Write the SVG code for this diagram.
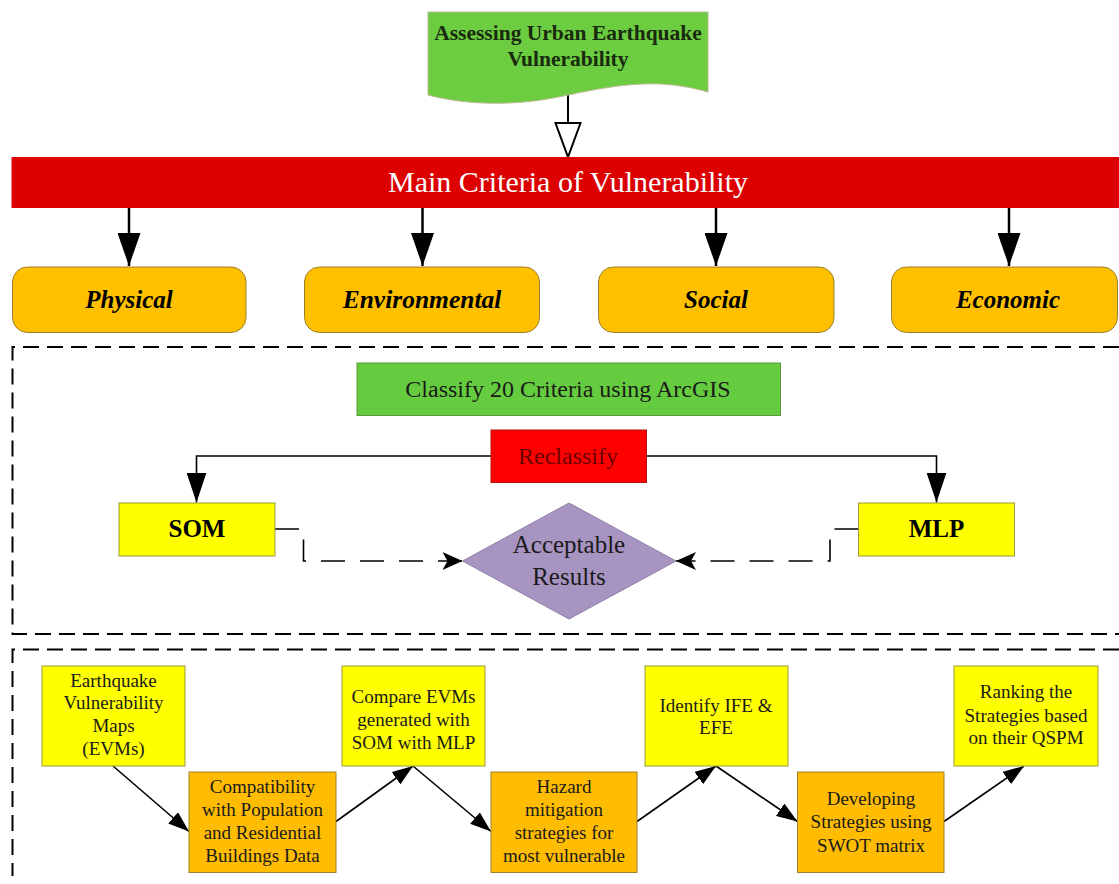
<svg xmlns="http://www.w3.org/2000/svg" width="1119" height="884" viewBox="0 0 1119 884">
<style>
  .serif{font-family:"Liberation Serif","Times New Roman",serif;}
  .b{font-weight:bold;}
  .bi{font-weight:bold;font-style:italic;}
  .crit{fill:#ffc000;stroke:#9a7f2c;stroke-width:1;}
  .yel{fill:#ffff00;stroke:#9c9a3a;stroke-width:1;}
  .org{fill:#ffbc00;stroke:#a0802c;stroke-width:1;}
  .frame{fill:none;stroke:#000;stroke-width:2;stroke-dasharray:16 8;}
  .conn{fill:none;stroke:#000;}
  .dash{fill:none;stroke:#000;stroke-width:1.6;stroke-dasharray:24 15;}
  .t19{font-size:19px;fill:#1a1a1a;}
</style>
<defs>
  <marker id="hollow" markerUnits="userSpaceOnUse" markerWidth="38" markerHeight="30" refX="35" refY="14" orient="auto">
    <path d="M1,1.5 L35,14 L1,26.5 Z" fill="#fff" stroke="#000" stroke-width="2"/>
  </marker>
  <marker id="big" markerUnits="userSpaceOnUse" markerWidth="33" markerHeight="23" refX="33" refY="11.5" orient="auto">
    <path d="M0,0 L33,11.5 L0,23 Z" fill="#000"/>
  </marker>
  <marker id="mid" markerUnits="userSpaceOnUse" markerWidth="30" markerHeight="20" refX="30" refY="10" orient="auto">
    <path d="M0,0 L30,10 L0,20 Z" fill="#000"/>
  </marker>
  <marker id="stealth" markerUnits="userSpaceOnUse" markerWidth="20" markerHeight="18" refX="20" refY="9" orient="auto">
    <path d="M0,0 L20,9 L0,18 L5,9 Z" fill="#000"/>
  </marker>
  <marker id="small" markerUnits="userSpaceOnUse" markerWidth="21" markerHeight="15" refX="21" refY="7.5" orient="auto">
    <path d="M0,0 L21,7.5 L0,15 Z" fill="#000"/>
  </marker>
</defs>
<rect width="1119" height="884" fill="#fff"/>

<!-- dashed frames -->
<g id="frames">
  <path class="frame" d="M1119,347 H12.5 V634 H1119"/>
  <path class="frame" d="M1119,649.5 H12.5 V876"/>
</g>

<!-- connectors -->
<g id="connectors">
  <line class="conn" x1="568" y1="94" x2="568" y2="157" stroke-width="2" marker-end="url(#hollow)"/>
  <line class="conn" x1="129" y1="208" x2="129" y2="266" stroke-width="2.5" marker-end="url(#big)"/>
  <line class="conn" x1="422.5" y1="208" x2="422.5" y2="266" stroke-width="2.5" marker-end="url(#big)"/>
  <line class="conn" x1="716" y1="208" x2="716" y2="266" stroke-width="2.5" marker-end="url(#big)"/>
  <line class="conn" x1="1009" y1="208" x2="1009" y2="266" stroke-width="2.5" marker-end="url(#big)"/>
  <path class="conn" d="M491,456 H196.5 V502.5" stroke-width="1.6" marker-end="url(#mid)"/>
  <path class="conn" d="M646.5,456 H936.5 V502.5" stroke-width="1.6" marker-end="url(#mid)"/>
  <path class="dash" d="M275,529 H303.5 V561 H462.5" marker-end="url(#stealth)"/>
  <path class="dash" d="M858.5,529 H830 V561 H676" marker-end="url(#stealth)"/>
  <line class="conn" x1="113" y1="766" x2="189" y2="831.5" stroke-width="1.6" marker-end="url(#small)"/>
  <line class="conn" x1="336" y1="821.5" x2="413" y2="766" stroke-width="1.6" marker-end="url(#small)"/>
  <line class="conn" x1="413" y1="766" x2="491" y2="831.5" stroke-width="1.6" marker-end="url(#small)"/>
  <line class="conn" x1="637" y1="821.5" x2="716" y2="766" stroke-width="1.6" marker-end="url(#small)"/>
  <line class="conn" x1="716" y1="766" x2="797.5" y2="821.5" stroke-width="1.6" marker-end="url(#small)"/>
  <line class="conn" x1="944" y1="821.5" x2="1024" y2="766" stroke-width="1.6" marker-end="url(#small)"/>
</g>

<g id="title">
  <path d="M428,12 H708 V92 C660,78 620,84 568,95 C520,106 470,106 428,95 Z" fill="#6bcd3f" stroke="#b8b890" stroke-width="1"/>
  <text class="serif b" font-size="21.5" text-anchor="middle" fill="#1a2a10"><tspan x="568" y="39.5">Assessing Urban Earthquake</tspan><tspan x="568" y="65.5">Vulnerability</tspan></text>
</g>

<g id="main-criteria">
  <rect x="11.5" y="157" width="1107.5" height="51" fill="#dc0000"/>
  <text class="serif" x="568" y="192" font-size="30" text-anchor="middle" fill="#fff">Main Criteria of Vulnerability</text>
</g>

<g id="physical">
  <rect class="crit" x="12.5" y="267" width="233.5" height="65.5" rx="15"/>
  <text class="serif bi" x="129" y="307.5" font-size="25" text-anchor="middle">Physical</text>
</g>
<g id="environmental">
  <rect class="crit" x="304.5" y="267" width="235" height="65.5" rx="15"/>
  <text class="serif bi" x="422" y="307.5" font-size="25.5" text-anchor="middle">Environmental</text>
</g>
<g id="social">
  <rect class="crit" x="598.5" y="267" width="235.5" height="65.5" rx="15"/>
  <text class="serif bi" x="716" y="307.5" font-size="25" text-anchor="middle">Social</text>
</g>
<g id="economic">
  <rect class="crit" x="891.5" y="267" width="226" height="65.5" rx="15"/>
  <text class="serif bi" x="1008" y="307.5" font-size="25" text-anchor="middle">Economic</text>
</g>

<g id="classify">
  <rect x="357" y="363" width="423.5" height="52.5" fill="#66cc3f" stroke="#5a9a3a" stroke-width="1"/>
  <text class="serif" x="568" y="396.5" font-size="24" text-anchor="middle" fill="#1a1a1a">Classify 20 Criteria using ArcGIS</text>
</g>

<g id="reclassify">
  <rect x="491" y="430" width="155.5" height="52.5" fill="#ff0000" stroke="#b01010" stroke-width="1"/>
  <text class="serif" x="568" y="463.5" font-size="24" text-anchor="middle" fill="#6b0000">Reclassify</text>
</g>

<g id="som">
  <rect class="yel" x="119" y="503" width="156" height="53"/>
  <text class="serif b" x="197" y="537" font-size="25" text-anchor="middle">SOM</text>
</g>
<g id="mlp">
  <rect class="yel" x="858.5" y="503" width="156" height="53"/>
  <text class="serif b" x="936.5" y="537" font-size="25" text-anchor="middle">MLP</text>
</g>

<g id="acceptable">
  <polygon points="462.5,561 569,503 676,561 569,619" fill="#a794c1" stroke="#8f80a8" stroke-width="1"/>
  <text class="serif" font-size="25" text-anchor="middle" fill="#1a1a1a"><tspan x="569" y="553">Acceptable</tspan><tspan x="569" y="585">Results</tspan></text>
</g>

<g id="evms">
  <rect class="yel" x="42" y="666" width="143" height="100"/>
  <text class="serif t19" text-anchor="middle"><tspan x="113.5" y="686.5">Earthquake</tspan><tspan x="113.5" y="709">Vulnerability</tspan><tspan x="113.5" y="731.5">Maps</tspan><tspan x="113.5" y="754.5">(EVMs)</tspan></text>
</g>
<g id="compatibility">
  <rect class="org" x="189" y="772" width="147" height="100.5"/>
  <text class="serif t19" text-anchor="middle"><tspan x="262.5" y="793">Compatibility</tspan><tspan x="262.5" y="816">with Population</tspan><tspan x="262.5" y="838.5">and Residential</tspan><tspan x="262.5" y="861.5">Buildings Data</tspan></text>
</g>
<g id="compare">
  <rect class="yel" x="342" y="666" width="143" height="100"/>
  <text class="serif t19" text-anchor="middle"><tspan x="413.5" y="703">Compare EVMs</tspan><tspan x="413.5" y="726">generated with</tspan><tspan x="413.5" y="748.5">SOM with MLP</tspan></text>
</g>
<g id="hazard">
  <rect class="org" x="491" y="772" width="146" height="100.5"/>
  <text class="serif t19" text-anchor="middle"><tspan x="564" y="793">Hazard</tspan><tspan x="564" y="816">mitigation</tspan><tspan x="564" y="838.5">strategies for</tspan><tspan x="564" y="861.5">most vulnerable</tspan></text>
</g>
<g id="identify">
  <rect class="yel" x="645" y="666" width="143" height="100"/>
  <text class="serif t19" text-anchor="middle"><tspan x="716" y="711.5">Identify IFE &amp;</tspan><tspan x="716" y="734">EFE</tspan></text>
</g>
<g id="developing">
  <rect class="org" x="797.5" y="772" width="146.5" height="100.5"/>
  <text class="serif t19" text-anchor="middle"><tspan x="871" y="805">Developing</tspan><tspan x="871" y="828">Strategies using</tspan><tspan x="871" y="851.5">SWOT matrix</tspan></text>
</g>
<g id="ranking">
  <rect class="yel" x="954" y="666" width="144" height="100"/>
  <text class="serif t19" text-anchor="middle"><tspan x="1026" y="698">Ranking the</tspan><tspan x="1026" y="721.5">Strategies based</tspan><tspan x="1026" y="744">on their QSPM</tspan></text>
</g>
</svg>
